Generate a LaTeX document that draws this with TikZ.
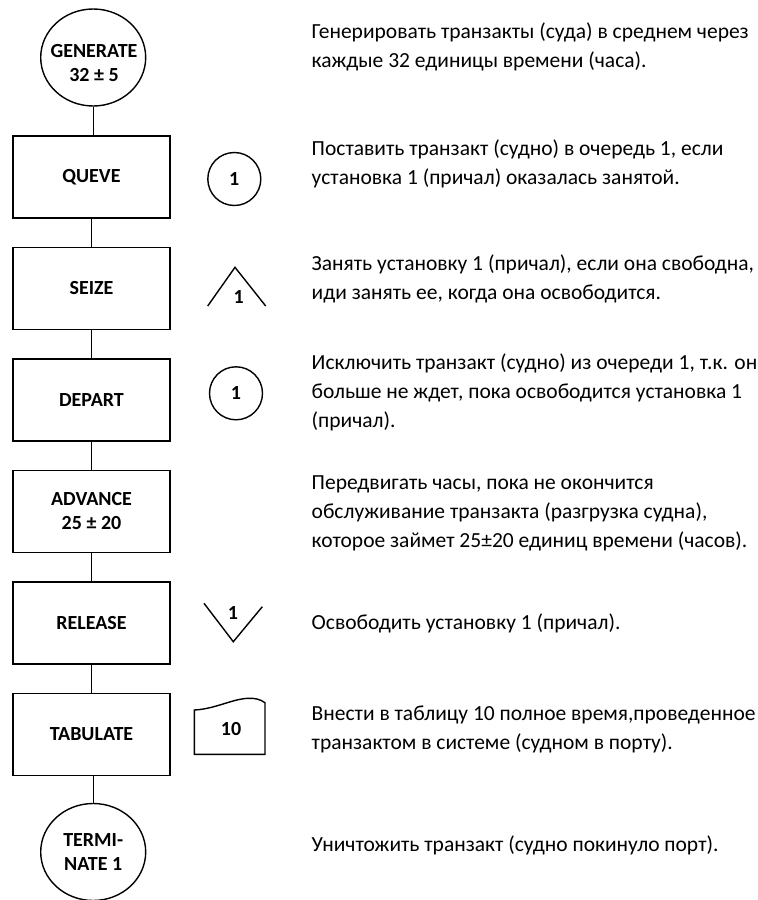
\documentclass[tikz,border=0pt]{standalone}
\usepackage{fontspec}
\setmainfont{Carlito}
\usetikzlibrary{shapes.geometric}

\begin{document}
\begin{tikzpicture}[x=1pt,y=-1pt,line width=1.4pt,
    blocklabel/.style={font=\bfseries\fontsize{20}{24}\selectfont,align=center,inner sep=0pt},
    block/.style={blocklabel,draw,rectangle,minimum width=157pt,minimum height=82pt},
    endpoint/.style={blocklabel,draw,ellipse,minimum width=105pt,minimum height=97pt},
    ringsym/.style={blocklabel,draw,circle,minimum size=53pt},
    note/.style={anchor=west,align=left,inner sep=0pt,font=\fontsize{21.5}{29}\selectfont}]
                \useasboundingbox (0,0) rectangle (758,900);
                \node[endpoint] (generate) at (93.2,57.5) {};
                \node[blocklabel] (generate text) at (94,63.5) {GENERATE\\32 ± 5};
                \node[block] (queve) at (91.5,177) {QUEVE};
                \node[block] (seize) at (91.5,288.5) {SEIZE};
                \node[block] (depart) at (91.5,400) {DEPART};
                \node[block] (advance) at (91.5,511.5) {ADVANCE\\25 ± 20};
                \node[block] (release) at (91.5,623) {RELEASE};
                \node[block] (tabulate) at (91.5,734.5) {TABULATE};
                \node[endpoint] (terminate) at (93.2,852) {TERMI-\\NATE 1};
                \draw (generate.south) -- (generate.south |- queve.north);
                \foreach \a/\b in {queve/seize,seize/depart,depart/advance,advance/release,release/tabulate}
                    \draw (\a) -- (\b);
                \draw (tabulate.south -| terminate.north) -- (terminate.north);
                \node[ringsym] (queve no) at (234.3,179) {1};
                \draw (207.7,306) -- (235,267.3) -- (265.7,306);
                \node[blocklabel] (seize no) at (238.7,297.3) {1};
                \node[ringsym] (depart no) at (236,393.3) {1};
                \draw (204,603.3) -- (233.3,641.7) -- (262.3,606.7);
                \node[blocklabel] (release no) at (233,613) {1};
                \draw (194.3,710) -- (194.3,754.3) -- (265,754.3) -- (265,702.7) .. controls (260,699) and (254,698) .. (248,698.3) .. controls (232,699) and (215,709) .. (194.3,710) -- cycle;
                \node[blocklabel] (tabulate no) at (231,729) {10};
                \node[note] (generate note) at (311,46.5) {Генерировать транзакты (суда) в среднем через\\каждые 32 единицы времени (часа).};
                \node[note] (queve note) at (311,164) {Поставить транзакт (судно) в очередь 1, если\\установка 1 (причал) оказалась занятой.};
                \node[note] (seize note) at (311,279) {Занять установку 1 (причал), если она свободна,\\иди занять ее, когда она освободится.};
                \node[note] (depart note) at (311,392) {Исключить транзакт (судно) из очереди 1, т.к. он\\больше не ждет, пока освободится установка 1\\(причал).};
                \node[note] (advance note) at (311,513.5) {Передвигать часы, пока не окончится\\обслуживание транзакта (разгрузка судна),\\которое займет 25±20 единиц времени (часов).};
                \node[note] (release note) at (311,623) {Освободить установку 1 (причал).};
                \node[note] (tabulate note) at (311,729) {Внести в таблицу 10 полное время,проведенное\\транзактом в системе (судном в порту).};
                \node[note] (terminate note) at (311,845) {Уничтожить транзакт (судно покинуло порт).};
            \end{tikzpicture}
\end{document}
